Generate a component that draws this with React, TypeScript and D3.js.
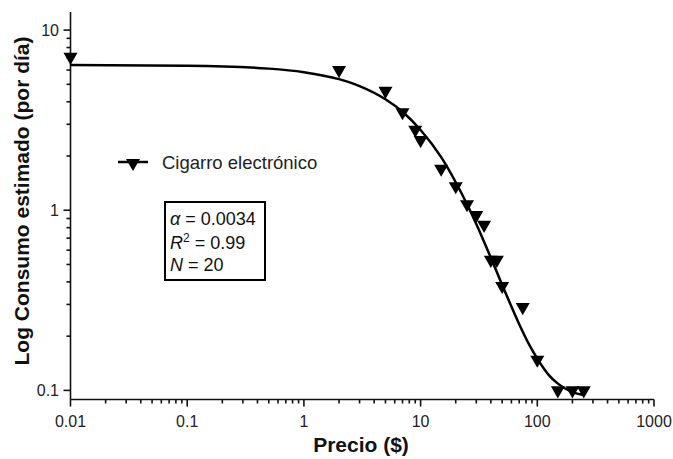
import React, { useEffect, useRef } from 'react';
import * as d3 from 'd3';

// observed points (price, estimated consumption per day)
const prices = [0.01, 2, 5, 7, 9, 10, 15, 20, 25, 30, 35, 40, 45, 50, 75, 100, 150, 200, 250];
const consumption = [7.1, 6.0, 4.6, 3.5, 2.8, 2.45, 1.7, 1.36, 1.08, 0.94, 0.83, 0.53, 0.53, 0.38, 0.29, 0.148, 0.1, 0.1, 0.1];

// fitted demand curve
const fitPrices = [0.01, 0.1, 0.5, 1, 2, 3, 5, 7, 10, 15, 20, 25, 30, 40, 50, 60, 70, 85, 100, 125, 150, 200, 250];
const fitValues = [6.39, 6.34, 6.11, 5.84, 5.34, 4.89, 4.13, 3.52, 2.79, 1.97, 1.43, 1.08, 0.839, 0.545, 0.385, 0.292, 0.233, 0.18, 0.15, 0.122, 0.109, 0.0977, 0.0942];

const xTicks = [0.01, 0.1, 1, 10, 100, 1000];
const xTickLabels = ['0.01', '0.1', '1', '10', '100', '1000'];
const yTicks = [0.1, 1, 10];
const yTickLabels = ['0.1', '1', '10'];

const legendLabel = 'Cigarro electrónico';
const FONT = 'Arial, "Liberation Sans", sans-serif';

const App: React.FC = () => {
  const ref = useRef<SVGSVGElement | null>(null);

  useEffect(() => {
    const svg = d3.select(ref.current);
    const width = 673;
    const height = 459;
    svg.selectAll('*').remove();
    svg.attr('width', width).attr('height', height).attr('viewBox', `0 0 ${width} ${height}`);

    const x = d3.scaleLog().domain([0.01, 1000]).range([70.5, 654]);
    const y = d3.scaleLog().domain([0.089, 12.6]).range([399.5, 12]);

    // minor ticks
    const xMinor: number[] = [];
    for (let e = -2; e < 3; e++) for (let m = 2; m <= 9; m++) xMinor.push(m * Math.pow(10, e));
    const yMinor: number[] = [];
    for (let e = -1; e < 1; e++) for (let m = 2; m <= 9; m++) yMinor.push(m * Math.pow(10, e));

    const axes = svg.append('g').attr('stroke', '#111').attr('stroke-width', 1.6).attr('fill', 'none');
    axes.append('line').attr('x1', x(0.01)).attr('x2', x(1000)).attr('y1', y.range()[0]).attr('y2', y.range()[0]);
    axes.append('line').attr('x1', x(0.01)).attr('x2', x(0.01)).attr('y1', y.range()[0]).attr('y2', y.range()[1]);

    axes.selectAll('line.xmaj').data(xTicks).join('line')
      .attr('x1', d => x(d)).attr('x2', d => x(d))
      .attr('y1', y.range()[0]).attr('y2', y.range()[0] + 7);
    axes.selectAll('line.xmin').data(xMinor).join('line')
      .attr('x1', d => x(d)).attr('x2', d => x(d))
      .attr('y1', y.range()[0]).attr('y2', y.range()[0] + 4);
    axes.selectAll('line.ymaj').data(yTicks).join('line')
      .attr('x1', x(0.01) - 7).attr('x2', x(0.01))
      .attr('y1', d => y(d)).attr('y2', d => y(d));
    axes.selectAll('line.ymin').data(yMinor).join('line')
      .attr('x1', x(0.01) - 4).attr('x2', x(0.01))
      .attr('y1', d => y(d)).attr('y2', d => y(d));

    svg.append('g').selectAll('text').data(xTicks).join('text')
      .attr('x', d => x(d)).attr('y', 427)
      .attr('text-anchor', 'middle')
      .attr('font-family', FONT).attr('font-size', 16).attr('fill', '#222')
      .text((d, i) => xTickLabels[i]);

    svg.append('g').selectAll('text').data(yTicks).join('text')
      .attr('x', 59).attr('y', d => y(d)).attr('dy', '0.36em')
      .attr('text-anchor', 'end')
      .attr('font-family', FONT).attr('font-size', 16).attr('fill', '#222')
      .text((d, i) => yTickLabels[i]);

    // fitted curve
    const fit = fitPrices.map((p, i) => [p, fitValues[i]] as [number, number]);
    svg.append('path')
      .attr('d', d3.line<[number, number]>().x(d => x(d[0])).y(d => y(d[1])).curve(d3.curveMonotoneX)(fit))
      .attr('fill', 'none').attr('stroke', '#000').attr('stroke-width', 2.5);

    // data markers
    const tri = d3.symbol().type(d3.symbolTriangle).size(85);
    svg.append('g').selectAll('path').data(prices).join('path')
      .attr('d', tri)
      .attr('transform', (d, i) => `translate(${x(d)},${y(consumption[i])}) rotate(180)`)
      .attr('fill', '#000');

    // legend
    const leg = svg.append('g');
    leg.append('line').attr('x1', 118).attr('x2', 148).attr('y1', 162).attr('y2', 162)
      .attr('stroke', '#000').attr('stroke-width', 2.5);
    leg.append('path').attr('d', tri).attr('transform', 'translate(133,163) rotate(180)').attr('fill', '#000');
    leg.append('text').attr('x', 162).attr('y', 162).attr('dy', '0.36em')
      .attr('font-family', FONT).attr('font-size', 18.5).attr('fill', '#222').text(legendLabel);

    // stats box
    const box = svg.append('g').attr('font-family', FONT).attr('font-size', 18).attr('fill', '#111');
    box.append('rect').attr('x', 165).attr('y', 202).attr('width', 100).attr('height', 78)
      .attr('fill', 'none').attr('stroke', '#000').attr('stroke-width', 2);
    const t1 = box.append('text').attr('x', 170).attr('y', 225);
    t1.append('tspan').attr('font-style', 'italic').text('α');
    t1.append('tspan').text(' = 0.0034');
    const t2 = box.append('text').attr('x', 170).attr('y', 249);
    t2.append('tspan').attr('font-style', 'italic').text('R');
    t2.append('tspan').attr('font-size', 12).attr('dy', -7).text('2');
    t2.append('tspan').attr('dy', 7).text(' = 0.99');
    const t3 = box.append('text').attr('x', 170).attr('y', 271);
    t3.append('tspan').attr('font-style', 'italic').text('N');
    t3.append('tspan').text(' = 20');

    // axis titles
    svg.append('text').attr('x', 361).attr('y', 452).attr('text-anchor', 'middle')
      .attr('font-family', FONT).attr('font-size', 21).attr('font-weight', 'bold').attr('fill', '#111')
      .text('Precio ($)');
    svg.append('text').attr('transform', 'translate(29,201) rotate(-90)').attr('text-anchor', 'middle')
      .attr('font-family', FONT).attr('font-size', 21).attr('font-weight', 'bold').attr('fill', '#111')
      .text('Log Consumo estimado (por día)');
  }, []);

  return <svg ref={ref} style={{ position: 'absolute', left: 0, top: 0, background: '#fff' }}></svg>;
};

export default App;
